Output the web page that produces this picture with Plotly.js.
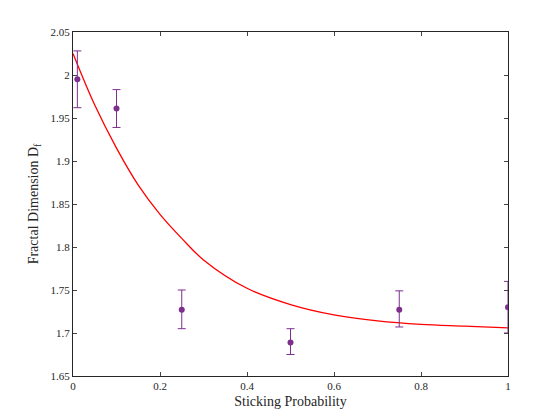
<!DOCTYPE html>
<html>
<head>
<script src="https://cdn.plot.ly/plotly-3.0.1.min.js"></script>
<style>body{margin:0}</style>
</head>
<body>
<div id="graph" style="width:560px;height:420px"></div>
<script>
// measured points with error bars
const probX = [0.01, 0.1, 0.25, 0.5, 0.75, 1.0];
const dimY = [1.995, 1.961, 1.727, 1.689, 1.727, 1.730];
const errHi = [0.033, 0.022, 0.023, 0.016, 0.022, 0.030];
const errLo = [0.033, 0.022, 0.022, 0.014, 0.020, 0.030];

// fitted curve
const fitX = [0, 0.05, 0.1, 0.15, 0.2, 0.25, 0.3, 0.4, 0.5, 0.6, 0.7, 0.8, 0.9, 1.0];
const fitY = [2.025, 1.965, 1.915, 1.872, 1.838, 1.810, 1.785, 1.752, 1.733, 1.721, 1.714, 1.710, 1.708, 1.706];

const fnt = {family: '"Liberation Serif", "DejaVu Serif", serif', size: 11, color: '#262626'};

const fit = {
    x: fitX, y: fitY, mode: 'lines', type: 'scatter',
    line: {color: '#ff0000', width: 1.3, shape: 'spline'}
};

const pts = {
    x: probX, y: dimY, mode: 'markers', type: 'scatter',
    marker: {color: '#7e2f8e', size: 6},
    error_y: {type: 'data', symmetric: false, array: errHi, arrayminus: errLo,
        color: '#7e2f8e', thickness: 1, width: 4}
};

const axis = {
    showgrid: false, zeroline: false, ticks: 'inside', ticklen: 4,
    mirror: 'ticks', showline: true, linecolor: '#262626', linewidth: 1,
    tickfont: fnt
};

const layout = {
    width: 560, height: 420,
    margin: {l: 73, r: 52, t: 32, b: 44},
    paper_bgcolor: '#fff', plot_bgcolor: '#fff',
    showlegend: false,
    xaxis: Object.assign({}, axis, {
        range: [0, 1], tickvals: [0, 0.2, 0.4, 0.6, 0.8, 1],
        ticktext: ['0', '0.2', '0.4', '0.6', '0.8', '1'],
        title: {text: 'Sticking Probability', font: {family: fnt.family, size: 14, color: '#262626'}, standoff: 4}
    }),
    yaxis: Object.assign({}, axis, {
        range: [1.65, 2.05],
        tickvals: [1.65, 1.7, 1.75, 1.8, 1.85, 1.9, 1.95, 2, 2.05],
        ticktext: ['1.65', '1.7', '1.75', '1.8', '1.85', '1.9', '1.95', '2', '2.05'],
        title: {text: 'Fractal Dimension D<sub>f</sub>', font: {family: fnt.family, size: 14, color: '#262626'}, standoff: 8}
    })
};

Plotly.newPlot('graph', [fit, pts], layout, {staticPlot: true});
</script>
</body>
</html>
